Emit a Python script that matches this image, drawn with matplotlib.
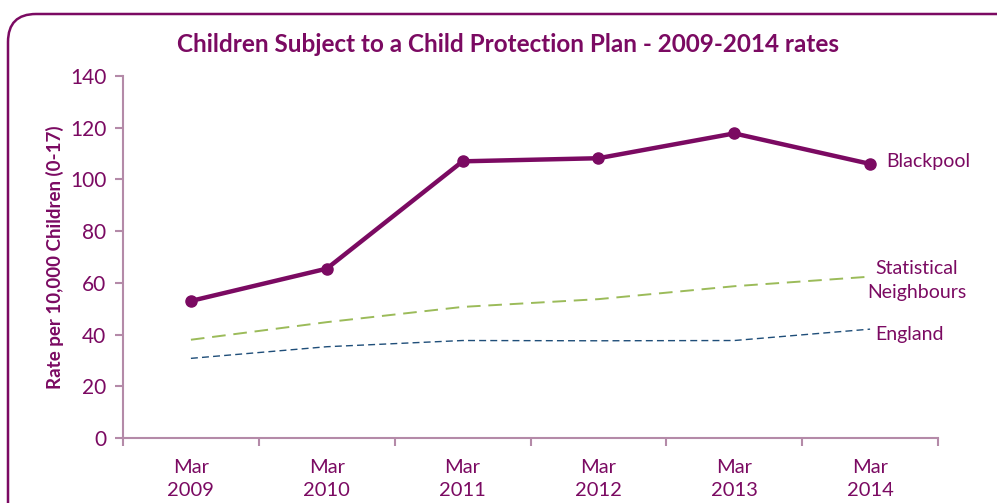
import matplotlib.pyplot as plt
from matplotlib.patches import FancyBboxPatch

# data
years = ["2009", "2010", "2011", "2012", "2013", "2014"]
blackpool = [53.0, 65.5, 107.0, 108.2, 117.8, 106.0]
stat_neighbours = [38.0, 44.8, 50.7, 53.7, 58.7, 62.4]
england = [30.8, 35.3, 37.7, 37.6, 37.7, 42.1]

purple = "#7b0a62"
axis_col = "#b48aa8"

plt.rcParams['font.family'] = ['Lato', 'DejaVu Sans']

fig = plt.figure(figsize=(9.97, 5.03), dpi=100)
ax = fig.add_axes([123 / 997, 65 / 503, 815 / 997, 362 / 503])

x = list(range(len(years)))
ax.plot(x, england, color="#1f4e79", lw=1.0, dashes=(5, 3))
ax.plot(x, stat_neighbours, color="#9bbb59", lw=1.4, dashes=(7, 4))
ax.plot(x, blackpool, color=purple, lw=3.2, marker="o", ms=8)

ax.set_xlim(-0.5, len(years) - 0.5)
ax.set_ylim(0, 140)
ax.set_yticks(range(0, 141, 20))
ax.set_xticks(x)
ax.set_xticklabels(["Mar\n" + y for y in years], linespacing=1.45)
ax.set_xticks([i - 0.5 for i in range(len(years) + 1)], minor=True)
ax.tick_params(axis="x", which="major", length=0, pad=15, labelsize=14.5, labelcolor=purple)
ax.tick_params(axis="x", which="minor", length=6, width=1.5, color=axis_col, direction="out")
ax.tick_params(axis="y", length=6, width=1.5, color=axis_col, labelsize=15, labelcolor=purple, pad=6)

for s in ["top", "right"]:
    ax.spines[s].set_visible(False)
for s in ["left", "bottom"]:
    ax.spines[s].set_color(axis_col)
    ax.spines[s].set_linewidth(1.5)

ax.set_ylabel("Rate per 10,000 Children (0-17)", fontsize=13.5, fontweight="bold",
              color=purple, labelpad=4)

# end labels
ax.text(len(years) - 1 + 0.12, blackpool[-1] + 1, "Blackpool", color=purple, fontsize=14, va="center")
ax.text(len(years) - 1 - 0.02, stat_neighbours[-1] - 1.5, "Statistical\nNeighbours", color=purple,
        fontsize=14, va="center", ha="left", multialignment="center", linespacing=1.55)
ax.text(len(years) - 1 + 0.04, england[-1] - 2, "England", color=purple, fontsize=14, va="center")

fig.text(508 / 997, 1 - 44 / 503, "Children Subject to a Child Protection Plan - 2009-2014 rates",
         ha="center", va="center", fontsize=17.5, fontweight="bold", color=purple)

# rounded frame that runs off the right and bottom edges
frame = FancyBboxPatch((8, -40), 1030, 503 - 14 + 40, boxstyle="round,pad=0,rounding_size=28",
                       transform=None, fill=False, edgecolor=purple, lw=1.8, clip_on=False)
fig.patches.append(frame)

fig.savefig("out.png", dpi=100)
